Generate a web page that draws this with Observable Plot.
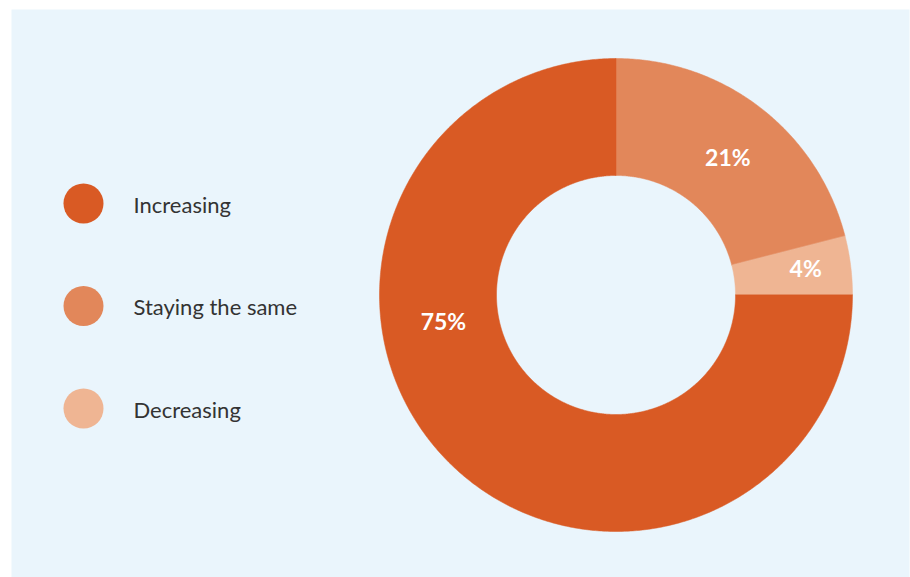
<!DOCTYPE html>
<html>
<head>
<meta charset="utf-8">
<script src="https://cdn.jsdelivr.net/npm/d3@7"></script>
<script src="https://cdn.jsdelivr.net/npm/@observablehq/plot@0.6"></script>
<style>
  html, body { margin: 0; padding: 0; background: #ffffff; }
  svg { display: block; }
</style>
</head>
<body>
<div id="chart"></div>
<script>
// ---- data ----
const categories = ["Staying the same", "Decreasing", "Increasing"]; // clockwise from 12 o'clock
const values = [21, 4, 75];
const colors = ["#E2875A", "#EFB593", "#D95A24"];
const legendOrder = ["Increasing", "Staying the same", "Decreasing"];
const labels = ["21%", "4%", "75%"];

// ---- layout (pixels, relative to donut centre, y up) ----
const W = 910, H = 577;
const cx = 616, cy = 295;
const R = 236.5, r0 = 119.5;
const panel = {left: 11, top: 9, right: 909, bottom: 577};
// label polar placement (degrees clockwise from top, radius)
const labelPolar = [[39, 177], [82, 191], [261.5, 175]];

const total = d3.sum(values);
let acc = 0;
const slices = categories.map((c, i) => {
  const a0 = acc / total * 2 * Math.PI;
  acc += values[i];
  const a1 = acc / total * 2 * Math.PI;
  return {cat: c, a0, a1, color: colors[i], label: labels[i], i};
});
const arcPts = [];
for (const s of slices) {
  const n = Math.max(2, Math.ceil((s.a1 - s.a0) / (Math.PI / 360)));
  for (let k = 0; k <= n; k++) {
    const a = s.a0 + (s.a1 - s.a0) * k / n;
    arcPts.push({cat: s.cat, ix: r0 * Math.sin(a), iy: r0 * Math.cos(a), ox: R * Math.sin(a), oy: R * Math.cos(a)});
  }
}
const labelPts = slices.map(s => {
  const [deg, rad] = labelPolar[s.i];
  const a = deg * Math.PI / 180;
  return {label: s.label, x: rad * Math.sin(a), y: rad * Math.cos(a)};
});
const legend = legendOrder.map((c, j) => ({cat: c, x: 83 - cx, y: (cy - 203) - j * 102.5}));

const plot = Plot.plot({
  width: W, height: H,
  marginLeft: panel.left, marginRight: W - panel.right,
  marginTop: panel.top, marginBottom: H - panel.bottom,
  x: {domain: [panel.left - cx, panel.right - cx], axis: null},
  y: {domain: [cy - panel.bottom, cy - panel.top], axis: null},
  color: {domain: categories, range: colors},
  style: {fontFamily: "Lato, 'Open Sans', sans-serif", background: "transparent"},
  marks: [
    Plot.frame({fill: "#EAF5FC", stroke: null}),
    Plot.area(arcPts, {x1: "ix", y1: "iy", x2: "ox", y2: "oy", z: "cat", fill: "cat", stroke: "cat", strokeWidth: 0.5, curve: "linear"}),
    Plot.text(labelPts, {x: "x", y: "y", dy: 1, text: "label", fill: "white", fontSize: 23, fontWeight: "bold"}),
    Plot.dot(legend, {x: "x", y: "y", r: 20, fill: "cat", stroke: null}),
    Plot.text(legend, {x: d => d.x + 50, y: "y", dy: 2, text: "cat", textAnchor: "start", fill: "#333333", fontSize: 22})
  ]
});
document.getElementById("chart").appendChild(plot);
</script>
</body>
</html>
